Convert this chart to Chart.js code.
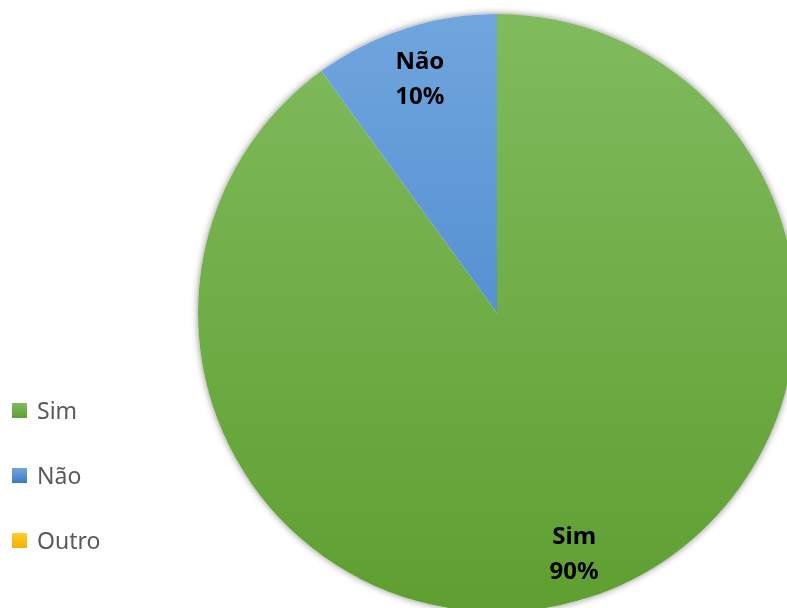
<!DOCTYPE html>
<html lang="pt">
<head>
<meta charset="utf-8">
<title>Sim / Não</title>
<script src="https://cdn.jsdelivr.net/npm/chart.js@4"></script>
<style>
    html, body {
        margin: 0;
        padding: 0;
        background: #ffffff;
        overflow: hidden;
    }
    .wrap {
        position: relative;
        width: 787px;
        height: 608px;
    }
    .legend {
        position: absolute;
        left: 12px;
        top: 392px;
        font-family: "Noto Sans", sans-serif;
        font-size: 23px;
        color: #595959;
    }
    .legend-item {
        display: flex;
        align-items: center;
        height: 36px;
        margin-bottom: 29px;
    }
    .legend-box {
        flex: 0 0 15px;
        width: 15px;
        height: 15px;
        margin-right: 10px;
    }
</style>
</head>
<body>
<div class="wrap">
    <canvas id="pie" width="787" height="608"></canvas>
    <div class="legend" id="legend"></div>
</div>
<script>
const categories = ['Sim', 'Não', 'Outro'];
const values = [90, 10, 0];
// cor clara (topo) e escura (base) de cada fatia
const topColors = ['#80bb5d', '#70a6de', '#ffcb2e'];
const bottomColors = ['#5f9f31', '#3b7bc4', '#f2b200'];

const pieRadius = 299;
const total = values.reduce((a, b) => a + b, 0);

function sliceGradient(context) {
    const chart = context.chart;
    const area = chart.chartArea;
    if (!area) {
        return topColors[context.dataIndex];
    }
    const cy = (area.top + area.bottom) / 2;
    const g = chart.ctx.createLinearGradient(0, cy - pieRadius, 0, cy + pieRadius);
    g.addColorStop(0, topColors[context.dataIndex]);
    g.addColorStop(1, bottomColors[context.dataIndex]);
    return g;
}

// sombra leve em volta da pizza
const pieShadow = {
    id: 'pieShadow',
    beforeDatasetsDraw(chart) {
        const arc = chart.getDatasetMeta(0).data[0];
        if (!arc) return;
        const ctx = chart.ctx;
        ctx.save();
        ctx.shadowColor = 'rgba(0, 0, 0, 0.45)';
        ctx.shadowBlur = 7;
        ctx.fillStyle = '#ffffff';
        ctx.beginPath();
        ctx.arc(arc.x, arc.y, arc.outerRadius, 0, Math.PI * 2);
        ctx.fill();
        ctx.restore();
    }
};

// rótulos dentro das fatias: categoria + percentual
const sliceLabels = {
    id: 'sliceLabels',
    afterDatasetsDraw(chart) {
        const ctx = chart.ctx;
        const meta = chart.getDatasetMeta(0);
        ctx.save();
        ctx.font = 'bold 24px "Noto Sans", sans-serif';
        ctx.fillStyle = '#000000';
        ctx.textAlign = 'center';
        ctx.textBaseline = 'middle';
        meta.data.forEach((arc, i) => {
            if (!values[i]) return;
            const mid = (arc.startAngle + arc.endAngle) / 2;
            const r = arc.outerRadius * 0.835;
            const x = arc.x + Math.cos(mid) * r;
            const y = arc.y + Math.sin(mid) * r;
            const pct = Math.round(values[i] / total * 100) + '%';
            ctx.fillText(categories[i], x, y - 13);
            ctx.fillText(pct, x, y + 22);
        });
        ctx.restore();
    }
};

const ctx = document.getElementById('pie').getContext('2d');
new Chart(ctx, {
    type: 'pie',
    data: {
        labels: categories,
        datasets: [{
            data: values,
            backgroundColor: sliceGradient,
            borderWidth: 0,
            radius: pieRadius,
            clip: false
        }]
    },
    options: {
        responsive: false,
        devicePixelRatio: 1,
        animation: false,
        layout: {
            padding: { left: 207, right: 0, top: 18, bottom: 0 }
        },
        plugins: {
            legend: { display: false },
            tooltip: { enabled: false }
        }
    },
    plugins: [pieShadow, sliceLabels]
});

// legenda à esquerda
const legend = document.getElementById('legend');
categories.forEach((name, i) => {
    const item = document.createElement('div');
    item.className = 'legend-item';
    const box = document.createElement('span');
    box.className = 'legend-box';
    box.style.background = `linear-gradient(${topColors[i]}, ${bottomColors[i]})`;
    const text = document.createElement('span');
    text.textContent = name;
    item.appendChild(box);
    item.appendChild(text);
    legend.appendChild(item);
});
</script>
</body>
</html>
